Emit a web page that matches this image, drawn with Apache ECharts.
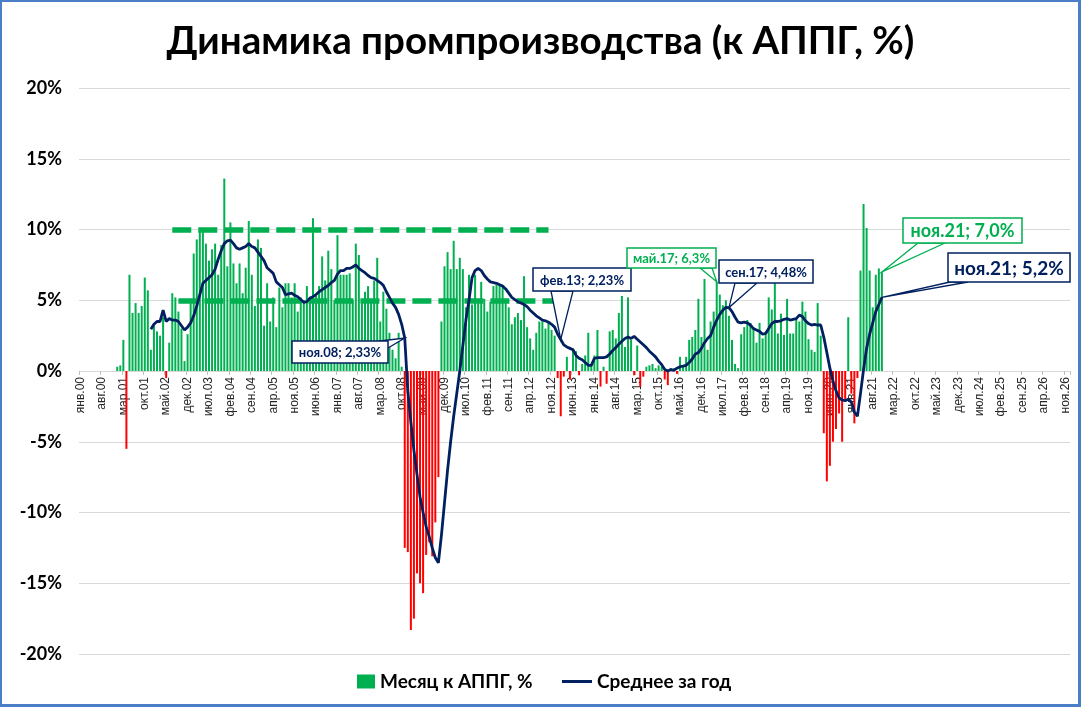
<!DOCTYPE html>
<html><head><meta charset="utf-8">
<script src="https://cdn.jsdelivr.net/npm/echarts@6/dist/echarts.min.js"></script>
<style>
html,body{margin:0;padding:0;background:#fff;}
#frame{position:absolute;left:0;top:0;width:1081px;height:707px;box-sizing:border-box;border:2px solid #4a7ec6;border-right-width:3px;border-bottom-width:3px;}
#c{position:absolute;left:0;top:0;width:1081px;height:707px;}
</style></head>
<body>
<div id="c"></div>
<div id="frame"></div>
<script>
// month names and category labels (Jan 2000 .. Dec 2026)
const monthNames = ['янв','фев','мар','апр','май','июн','июл','авг','сен','окт','ноя','дек'];
const firstYear = 2000, lastYear = 2026;

// Month to same month of previous year, % (index 0 = Jan 2000)
const monthly = [
 null,null,null,null,null,null,null,null,null,null,null,null,                 // 2000
 0.3,0.4,2.2,-5.5,6.8,4.1,4.8,4.1,4.6,6.6,5.7,1.5,                              // 2001
 3.2,2.8,2.5,3.8,-0.5,2.0,5.5,5.2,4.2,3.0,0.7,2.6,                              // 2002
 5.1,8.3,9.3,9.9,10.0,9.0,7.8,8.6,9.0,6.8,8.9,13.6,                             // 2003
 7.4,10.5,7.6,6.2,7.6,5.5,7.3,10.6,6.8,4.6,9.3,8.7,                             // 2004
 3.2,6.2,3.5,5.2,3.1,5.9,4.5,6.2,6.2,5.2,6.2,4.2,                               // 2005
 5.2,5.0,6.0,5.0,10.8,5.3,6.0,8.1,6.4,8.5,7.2,5.0,                              // 2006
 9.6,6.8,6.8,6.8,6.9,5.0,9.0,8.2,4.9,5.6,6.0,4.9,                               // 2007
 6.4,8.0,3.5,5.6,4.4,2.7,1.5,0.9,2.7,0.3,-12.5,-12.8,                           // 2008
 -18.3,-17.5,-14.3,-15.0,-15.7,-13.0,-12.1,-13.1,-10.7,-7.5,3.5,7.4,            // 2009
 8.4,7.2,9.2,7.2,8.0,7.2,4.5,6.8,4.7,6.8,5.0,6.3,                               // 2010
 5.1,4.2,4.9,6.0,6.1,6.1,6.0,5.1,4.5,3.3,3.8,4.1,                               // 2011
 3.6,6.7,3.1,2.3,1.5,2.7,3.5,3.5,3.0,3.5,2.9,2.5,                               // 2012
 -0.5,-3.2,-0.4,1.0,-0.6,1.6,1.4,-0.3,0.5,1.1,2.7,0.4,                          // 2013
 1.1,2.9,-1.1,0.3,-0.9,2.8,2.9,2.3,4.1,5.3,1.7,5.2,                             // 2014
 2.2,-0.3,1.8,-1.1,-0.4,0.3,0.4,0.5,0.2,0.4,0.3,-0.6,                           // 2015
 -1.0,0.2,0.2,-0.2,1.0,0.35,1.0,2.2,2.4,2.9,5.1,2.4,                            // 2016
 6.5,1.5,3.5,4.2,6.3,5.4,4.65,5.0,3.9,2.2,0.5,0.2,                              // 2017
 2.6,3.1,3.6,3.4,3.1,2.0,3.4,2.3,2.8,5.2,4.35,6.3,                              // 2018
 2.65,4.05,2.55,5.1,2.65,2.65,3.7,3.5,4.9,4.2,2.25,1.5,                         // 2019
 1.35,4.8,2.5,-4.4,-7.8,-6.7,-5.0,-4.1,-3.0,-5.0,-2.0,3.8,                      // 2020
 -1.6,-3.7,-0.5,7.1,11.8,10.1,7.1,4.5,6.8,7.25,7.0                              // 2021 (to Nov)
];

// 12-month average, % (index 0 = Jan 2000)
const yearAvg = [
 null,null,null,null,null,null,null,null,null,null,null,null,                    // 2000
 null,null,null,null,null,null,null,null,null,null,null,2.95,                    // 2001
 3.3,3.5,3.5,4.3,3.5,3.7,3.6,3.6,3.5,3.2,2.9,3.1,                               // 2002
 3.4,3.9,4.6,5.4,6.2,6.4,6.6,6.8,7.2,7.9,8.5,9.0,                               // 2003
 9.2,9.25,9.0,8.7,8.6,8.7,8.8,9.0,8.8,8.7,8.4,8.1,                              // 2004
 7.8,7.3,7.1,6.9,6.3,6.1,5.9,5.4,5.45,5.5,5.35,5.25,                            // 2005
 5.05,4.85,4.9,5.15,5.25,5.4,5.6,5.75,5.9,6.05,6.25,6.4,                        // 2006
 6.85,7.1,7.1,7.25,7.25,7.35,7.5,7.25,7.1,6.95,6.75,6.6,                        // 2007
 6.55,6.4,6.25,6.05,5.6,5.2,4.8,4.5,4.0,3.3,2.33,-1.4,                          // 2008
 -3.6,-5.6,-7.3,-8.9,-10.0,-11.0,-11.7,-12.5,-13.2,-13.55,-11.6,-9.3,           // 2009
 -7.0,-5.0,-3.2,-1.6,0.0,1.8,3.6,5.0,6.6,7.1,7.25,7.1,                          // 2010
 6.75,6.5,6.3,6.25,6.2,6.1,6.0,5.8,5.5,5.2,5.05,4.9,                            // 2011
 4.8,4.7,4.55,4.3,4.1,3.9,3.75,3.6,3.55,3.45,3.3,3.1,                           // 2012
 2.6,2.23,1.85,1.7,1.6,1.5,1.1,0.9,0.8,0.6,0.4,0.4,                             // 2013
 0.9,0.95,0.95,0.95,1.0,1.2,1.45,1.65,1.9,2.1,2.3,2.4,                          // 2014
 2.3,2.45,2.25,2.05,1.85,1.65,1.4,1.2,1.0,0.7,0.45,0.1,                         // 2015
 0.0,0.1,0.05,0.2,0.3,0.35,0.4,0.6,0.85,1.2,1.3,1.6,                            // 2016
 2.0,2.3,2.5,3.1,3.6,4.0,4.3,4.5,4.48,4.2,3.8,3.45,                             // 2017
 3.4,3.45,3.4,3.25,3.0,2.9,2.8,2.6,2.65,3.0,3.35,3.5,                           // 2018
 3.5,3.55,3.65,3.7,3.6,3.65,3.7,3.95,3.85,3.55,3.35,3.25,                       // 2019
 3.3,3.25,3.25,2.4,1.3,0.2,-0.7,-1.4,-1.9,-2.05,-2.1,-2.0,                      // 2020
 -2.2,-2.9,-3.2,-1.6,0.1,1.6,2.6,3.4,4.2,4.7,5.2                                // 2021 (to Nov)
];

// Reference bands (dashed): level %, first and last category index
const bandLevels = [10, 5];
const bandStart = [30, 32];
const bandEnd = [153, 155];

const yTicks = {min: -20, max: 20, step: 5};

const categories = [];
for (let y = firstYear; y <= lastYear; y++) {
  for (let mi = 0; mi < 12; mi++) categories.push(monthNames[mi] + '.' + String(y).slice(2));
}

const GREEN = '#00B050', RED = '#FF0000', NAVY = '#002060';
const GRID = {left: 79, right: 11, top: 88, bottom: 53};
const CH = 707;
// shift the category axis from the grid bottom up to the zero line
const plotH = CH - GRID.top - GRID.bottom;
const zeroOffset = -plotH * (0 - yTicks.min) / (yTicks.max - yTicks.min);

// legend icon: thin horizontal line inside a 30x14 box (corner specks fix the box)
const lineIcon = 'path://M0,0L0.01,0L0,0.01Z M0,5.5L30,5.5L30,8.5L0,8.5Z M29.99,14L30,14L30,13.99Z';

const legendText = {fontFamily: 'Lato', fontWeight: 'bold', fontSize: 19, color: '#000'};

const chart = echarts.init(document.getElementById('c'), null, {renderer: 'canvas'});

const option = {
  animation: false,
  backgroundColor: '#fff',
  title: {
    text: 'Динамика промпроизводства (к АППГ, %)',
    left: 'center', top: 17,
    textStyle: {fontFamily: 'Lato', fontWeight: 'bold', fontSize: 38.5, color: '#000'}
  },
  legend: [
    {data: [{name: 'Месяц к АППГ, %', icon: 'rect'}], left: 357, top: 672, padding: 0,
     itemWidth: 18, itemHeight: 14, textStyle: legendText},
    {data: [{name: 'Среднее за год', icon: lineIcon}], left: 562, top: 672, padding: 0,
     itemWidth: 30, itemHeight: 14, textStyle: legendText}
  ],
  grid: GRID,
  xAxis: {
    type: 'category', data: categories, boundaryGap: true, position: 'bottom',
    offset: zeroOffset,
    axisLine: {onZero: false, lineStyle: {color: '#d9d9d9', width: 1}},
    axisTick: {show: true, interval: 6, length: 4, lineStyle: {color: '#bfbfbf'}},
    axisLabel: {interval: 6, rotate: 90, fontFamily: 'Liberation Sans', fontSize: 12, color: '#262626', margin: 6},
    splitLine: {show: false}
  },
  yAxis: {
    type: 'value', min: yTicks.min, max: yTicks.max, interval: yTicks.step,
    axisLine: {show: false}, axisTick: {show: false},
    axisLabel: {formatter: '{value}%', fontFamily: 'Lato', fontWeight: 'bold', fontSize: 18, color: '#000', margin: 17},
    splitLine: {lineStyle: {color: '#d9d9d9', width: 1}}
  },
  series: [
    {
      name: 'Месяц к АППГ, %', type: 'bar', barWidth: 2, z: 2,
      itemStyle: {color: GREEN},
      data: monthly.map(v => v == null ? null : {value: v, itemStyle: {color: v < 0 ? RED : GREEN}}),
      markLine: {
        silent: true, symbol: ['none', 'none'], label: {show: false},
        lineStyle: {color: GREEN, width: 5.5, type: [19, 7], opacity: 1},
        data: bandLevels.map((lv, i) => [
          {coord: [categories[bandStart[i]], lv]},
          {coord: [categories[bandEnd[i]], lv]}
        ])
      }
    },
    {
      name: 'Среднее за год', type: 'line', z: 5,
      symbol: 'none', showSymbol: false, smooth: false, connectNulls: false,
      lineStyle: {color: NAVY, width: 2.8},
      itemStyle: {color: NAVY},
      data: yearAvg
    }
  ]
};
chart.setOption(option);

// Callouts (label boxes pointing at data values)
const callouts = [
  {text: 'ноя.08; 2,33%', s: 1, i: 106, arr: yearAvg, color: NAVY, box: [292, 341, 96, 22], base: [[380, 341], [388, 348]], font: 13},
  {text: 'фев.13; 2,23%', s: 1, i: 157, arr: yearAvg, color: NAVY, box: [533, 268, 98, 23], base: [[551, 291], [573, 291]], font: 13},
  {text: 'май.17; 6,3%', s: 0, i: 208, arr: monthly, color: GREEN, box: [627, 248, 89, 20], base: [[700, 268], [712, 268]], font: 13},
  {text: 'сен.17; 4,48%', s: 1, i: 212, arr: yearAvg, color: NAVY, box: [719, 260, 94, 23], base: [[735, 283], [757, 283]], font: 13},
  {text: 'ноя.21; 7,0%', s: 0, i: 262, arr: monthly, color: GREEN, box: [903, 218, 119, 25], base: [[918, 243], [945, 243]], font: 18},
  {text: 'ноя.21; 5,2%', s: 1, i: 262, arr: yearAvg, color: NAVY, box: [948, 253, 122, 29], base: [[950, 282], [968, 282]], font: 19}
];

const graphics = [];
callouts.forEach(c => {
  const p = chart.convertToPixel({seriesIndex: c.s}, [c.i, c.arr[c.i]]);
  graphics.push({
    type: 'polygon', z: 100, silent: true,
    shape: {points: [c.base[0], p, c.base[1]]},
    style: {fill: '#fff', stroke: c.color, lineWidth: 1.3}
  });
  graphics.push({
    type: 'rect', z: 101, silent: true,
    shape: {x: c.box[0], y: c.box[1], width: c.box[2], height: c.box[3]},
    style: {fill: '#fff', stroke: c.color, lineWidth: 1.5}
  });
  graphics.push({
    type: 'text', z: 102, silent: true,
    style: {text: c.text, x: c.box[0] + c.box[2] / 2, y: c.box[1] + c.box[3] / 2 + 1,
            align: 'center', verticalAlign: 'middle',
            font: 'bold ' + c.font + 'px Lato', fill: c.color}
  });
});
chart.setOption({graphic: graphics});
</script>
</body></html>
